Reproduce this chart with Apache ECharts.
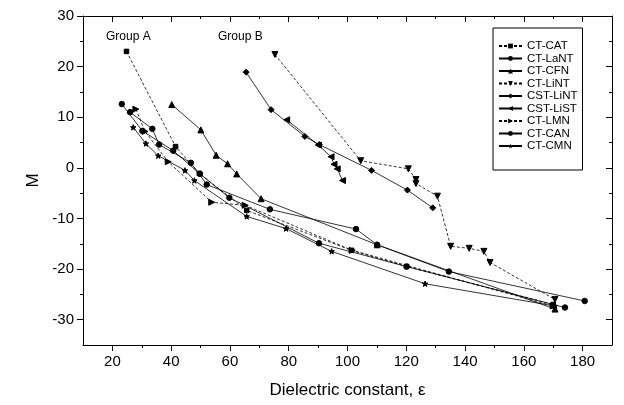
<!DOCTYPE html>
<html>
<head>
<meta charset="utf-8">
<script src="https://cdn.jsdelivr.net/npm/echarts@6/dist/echarts.min.js"></script>
<style>html,body{margin:0;padding:0;background:#fff}#c{width:624px;height:405px}</style>
</head>
<body>
<div id="c"></div>
<script>
const seriesNames = ['CT-CAT','CT-LaNT','CT-CFN','CT-LiNT','CST-LiNT','CST-LiST','CT-LMN','CT-CAN','CT-CMN'];
const CT_CAT  = [[24.8,23.0],[41.5,4.2],[49.6,-1.1],[65.7,-8.4],[101.4,-16.3],[120.1,-19.5],[170.0,-27.0]];
const CT_LaNT = [[23.2,12.6],[30.2,7.3],[40.7,3.4],[49.8,-1.2],[59.8,-5.9],[90.3,-14.9],[120.1,-19.5],[174.0,-27.6]];
const CT_CFN  = [[40.2,12.5],[50.1,7.5],[55.3,2.5],[59.2,0.8],[62.3,-1.2],[70.6,-6.1],[110.1,-15.2],[170.6,-27.9]];
const CT_LiNT = [[75.3,22.4],[104.5,1.4],[120.7,-0.2],[123.3,-2.3],[123.3,-3.1],[130.6,-5.6],[135.1,-15.5],[141.4,-15.9],[146.4,-16.5],[148.5,-18.7],[170.6,-26.0]];
const CST_LiNT = [[65.5,18.9],[74.0,11.5],[85.5,6.2],[90.4,4.6],[108.2,-0.5],[120.4,-4.4],[129.0,-7.9]];
const CST_LiST = [[79.3,9.5],[90.1,4.5],[94.4,2.2],[95.4,0.7],[96.5,-0.2],[98.3,-2.5]];
const CT_LMN  = [[28.0,11.6],[31.1,7.2],[39.0,1.2],[53.8,-6.8],[65.2,-7.4],[101.6,-16.3],[170.0,-27.3]];
const CT_CAN  = [[26.0,11.0],[33.6,7.7],[35.9,4.6],[46.7,1.0],[52.1,-3.3],[73.6,-8.2],[102.9,-12.1],[110.1,-15.2],[134.5,-20.5],[180.7,-26.3]];
const CT_CMN  = [[27.1,8.0],[31.4,4.8],[35.6,2.4],[44.7,-0.5],[47.9,-2.5],[65.7,-9.6],[79.1,-12.0],[94.6,-16.5],[126.4,-22.9],[170.6,-27.3]];

const xMajor = [20,40,60,80,100,120,140,160,180];
const xMinor = [30,50,70,90,110,130,150,170];
const yMajor = [-30,-20,-10,0,10,20,30];
const yMinor = [-25,-15,-5,5,15,25];
const xLabels = ['20','40','60','80','100','120','140','160','180'];
const yLabels = ['-30','-20','-10','0','10','20','30'];

const STAR = 'path://M0,-10L2.4,-3.1L9.5,-3.1L3.8,1.2L5.9,8.1L0,4L-5.9,8.1L-3.8,1.2L-9.5,-3.1L-2.4,-3.1Z';
const styles = [
  {symbol:'rect', size:4.5, rot:0, type:[3,2]},
  {symbol:'circle', size:5.5, rot:0, type:'solid'},
  {symbol:'triangle', size:6, rot:0, type:'solid'},
  {symbol:'triangle', size:6, rot:180, type:[3,2]},
  {symbol:'diamond', size:6, rot:0, type:'solid'},
  {symbol:'triangle', size:6, rot:90, type:'solid'},
  {symbol:'triangle', size:6, rot:-90, type:[3,2]},
  {symbol:'circle', size:5.5, rot:0, type:'solid'},
  {symbol:STAR, size:5.5, rot:0, type:'solid'}
];
const dataSets = [CT_CAT, CT_LaNT, CT_CFN, CT_LiNT, CST_LiNT, CST_LiST, CT_LMN, CT_CAN, CT_CMN];

const FONT = 'Liberation Sans, Arial, sans-serif';
function axisBase(pos, min, max, major, minor, labels, isMain, inside, len) {
  return {
    type:'value', position:pos, min:min, max:max,
    gridIndex:0,
    axisLine:{show:isMain!=='minor', onZero:false, lineStyle:{color:'#000', width:1}},
    axisTick:{show:true, inside:inside, length:len, customValues: isMain==='minor'?minor:major, lineStyle:{color:'#000'}},
    axisLabel:{show:isMain===true, customValues:major, formatter:function(v){const i=major.indexOf(v);return i>=0?labels[i]:'';}, color:'#000', fontFamily:FONT, fontSize:15, margin:9},
    splitLine:{show:false}
  };
}
const chart = echarts.init(document.getElementById('c'), null, {renderer:'canvas'});
const xb = axisBase('bottom',10,190,xMajor,xMinor,xLabels,true,false,6);
xb.name = 'Dielectric constant, \u03b5'; xb.nameLocation='middle'; xb.nameGap=37;
xb.nameTextStyle = {color:'#000', fontFamily:FONT, fontSize:17};
const xbm = axisBase('bottom',10,190,xMajor,xMinor,xLabels,'minor',false,3);
const xt = axisBase('top',10,190,xMajor,xMinor,xLabels,false,true,6);
const xtm = axisBase('top',10,190,xMajor,xMinor,xLabels,'minor',true,3);
const yl = axisBase('left',-35,30,yMajor,yMinor,yLabels,true,false,6);
yl.name='M'; yl.nameLocation='middle'; yl.nameGap=41; yl.nameRotate=90;
yl.nameTextStyle = {color:'#000', fontFamily:FONT, fontSize:17};
const ylm = axisBase('left',-35,30,yMajor,yMinor,yLabels,'minor',false,3);
const yr = axisBase('right',-35,30,yMajor,yMinor,yLabels,false,true,6);
const yrm = axisBase('right',-35,30,yMajor,yMinor,yLabels,'minor',true,3);

const option = {
  backgroundColor:'#fff',
  animation:false,
  grid:{left:83, right:12, top:16, bottom:60, containLabel:false},
  xAxis:[xb,xbm,xt,xtm],
  yAxis:[yl,ylm,yr,yrm],
  legend:{
    orient:'vertical', left:493, top:28,
    borderColor:'#000', borderWidth:1, padding:[12,5,18,5],
    itemWidth:23, itemHeight:6, itemGap:0.5,
    textStyle:{color:'#000', fontFamily:FONT, fontSize:11.5, lineHeight:11},
    data:seriesNames
  },
  graphic:[
    {type:'text', left:106, top:31, style:{text:'Group A', fill:'#000', font:'12px Liberation Sans, Arial, sans-serif'}},
    {type:'text', left:218, top:31, style:{text:'Group B', fill:'#000', font:'12px Liberation Sans, Arial, sans-serif'}}
  ],
  series: dataSets.map(function(d,i){
    const s = styles[i];
    return {
      name:seriesNames[i], type:'line', xAxisIndex:0, yAxisIndex:0,
      data:d, symbol:s.symbol, symbolSize:s.size, symbolRotate:s.rot,
      showSymbol:true, showAllSymbol:true,
      lineStyle:{color:'#000', width:0.8, type:s.type},
      itemStyle:{color:'#000', borderColor:'#000'},
      emphasis:{disabled:true}
    };
  })
};
chart.setOption(option);
</script>
</body>
</html>
